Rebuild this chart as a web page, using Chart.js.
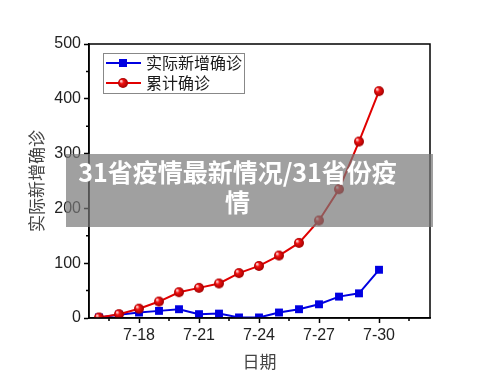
<!DOCTYPE html>
<html>
<head>
<meta charset="utf-8">
<script src="https://cdn.jsdelivr.net/npm/chart.js@4/dist/chart.umd.min.js"></script>
<style>
  html, body { margin: 0; padding: 0; background: #fff; }
  .wrap { position: relative; width: 500px; height: 382px; }
  .banner {
    position: absolute; left: 66px; top: 154px; width: 367px; height: 73px;
    background: rgba(120,120,120,0.7);
    color: #fff; font: bold 25px "Noto Sans CJK SC", sans-serif;
    line-height: 30px; text-align: center; padding: 2px 24px 0 0; box-sizing: border-box;
    white-space: nowrap;
  }
</style>
</head>
<body>
<div class="wrap">
  <canvas id="c" width="500" height="382"></canvas>
  <div class="banner">31省疫情最新情况/31省份疫<br>情</div>
</div>
<script>
// dates in July (day numbers), 7-16 .. 7-30
const days = [16, 17, 18, 19, 20, 21, 22, 23, 24, 25, 26, 27, 28, 29, 30];
const newCases = [1, 6, 10, 13, 16, 7, 8, 1, 1, 10, 16, 25, 39, 45, 88];
const totalCases = [1, 7, 17, 30, 47, 55, 63, 82, 95, 114, 137, 178, 235, 322, 414];
const xTicks = [18, 21, 24, 27, 30];
const xMinor = [16.5, 19.5, 22.5, 25.5, 28.5, 31.5];
const yTicks = [0, 100, 200, 300, 400, 500];
const yMinor = [50, 150, 250, 350, 450];

const seriesNames = ['实际新增确诊', '累计确诊'];
const BLUE = 'rgb(0,0,225)';
const RED = 'rgb(225,0,0)';

// shaded ball marker for the red series
function ball(r) {
  const c = document.createElement('canvas');
  c.width = c.height = r * 2 + 2;
  const g = c.getContext('2d');
  const grad = g.createRadialGradient(r - 1, r - 1, 0.5, r + 1, r + 1, r);
  grad.addColorStop(0, '#ffd0d0');
  grad.addColorStop(0.35, '#f01010');
  grad.addColorStop(1, '#a00000');
  g.fillStyle = grad;
  g.beginPath(); g.arc(r + 1, r + 1, r, 0, Math.PI * 2); g.fill();
  return c;
}
const redBall = ball(5);

const frame = {
  id: 'frame',
  afterDraw(chart) {
    const { ctx, chartArea: a, scales: { x, y } } = chart;
    ctx.save();
    ctx.strokeStyle = '#000';
    ctx.lineWidth = 1.5;
    ctx.strokeRect(a.left, a.top, a.right - a.left, a.bottom - a.top);
    ctx.beginPath();
    xMinor.forEach(v => { const px = x.getPixelForValue(v); ctx.moveTo(px, a.bottom); ctx.lineTo(px, a.bottom + 3); });
    yMinor.forEach(v => { const py = y.getPixelForValue(v); ctx.moveTo(a.left, py); ctx.lineTo(a.left - 3, py); });
    ctx.stroke();

    // legend box
    ctx.strokeStyle = '#888'; ctx.lineWidth = 1;
    ctx.strokeRect(103.5, 53.5, 141, 40);
    const rows = [63, 83];
    ctx.font = '16px "Noto Sans CJK SC", sans-serif';
    ctx.textBaseline = 'middle';
    rows.forEach((ry, i) => {
      ctx.strokeStyle = i ? RED : BLUE; ctx.lineWidth = 2;
      ctx.beginPath(); ctx.moveTo(106, ry); ctx.lineTo(141, ry); ctx.stroke();
      if (i) ctx.drawImage(redBall, 123 - 6, ry - 6);
      else { ctx.fillStyle = BLUE; ctx.fillRect(119, ry - 4, 8, 8); }
      ctx.fillStyle = '#1a1a1a';
      ctx.fillText(seriesNames[i], 146, ry);
    });
    ctx.restore();
  }
};

new Chart(document.getElementById('c'), {
  type: 'line',
  data: {
    datasets: [
      { label: seriesNames[0], data: days.map((d, i) => ({ x: d, y: newCases[i] })), borderColor: BLUE, backgroundColor: BLUE, borderWidth: 2, pointStyle: 'rect', pointRadius: 5.6, pointBorderWidth: 0, order: 1 },
      { label: seriesNames[1], data: days.map((d, i) => ({ x: d, y: totalCases[i] })), borderColor: RED, backgroundColor: RED, borderWidth: 2, pointStyle: redBall, order: 0 }
    ]
  },
  options: {
    responsive: false, animation: false,
    layout: { padding: { top: 44, right: 70, left: 0, bottom: 0 } },
    plugins: { legend: { display: false }, tooltip: { enabled: false } },
    scales: {
      x: {
        type: 'linear', min: 15.5, max: 32.55,
        afterBuildTicks: s => { s.ticks = xTicks.map(v => ({ value: v })); },
        afterFit: s => { s.height = 64; },
        grid: { drawOnChartArea: false, tickLength: 5, tickColor: '#000', tickWidth: 1.5 },
        border: { color: '#000', width: 1.5 },
        ticks: { color: '#222', font: { family: 'Liberation Sans', size: 16 }, padding: 3, maxRotation: 0, callback: v => '7-' + v },
        title: { display: true, text: '日期', color: '#444', font: { family: 'Noto Sans CJK SC', size: 17 }, padding: { top: 0, bottom: 10 } }
      },
      y: {
        min: 0, max: 500,
        afterBuildTicks: s => { s.ticks = yTicks.map(v => ({ value: v })); },
        afterFit: s => { s.width = 89; },
        grid: { drawOnChartArea: false, tickLength: 5, tickColor: '#000', tickWidth: 1.5 },
        border: { color: '#000', width: 1.5 },
        ticks: { color: '#222', font: { family: 'Liberation Sans', size: 16 }, padding: 3 },
        title: { display: true, text: '实际新增确诊', color: '#444', font: { family: 'Noto Sans CJK SC', size: 17 }, padding: { top: 26, bottom: 0 } }
      }
    }
  },
  plugins: [frame]
});
</script>
</body>
</html>
